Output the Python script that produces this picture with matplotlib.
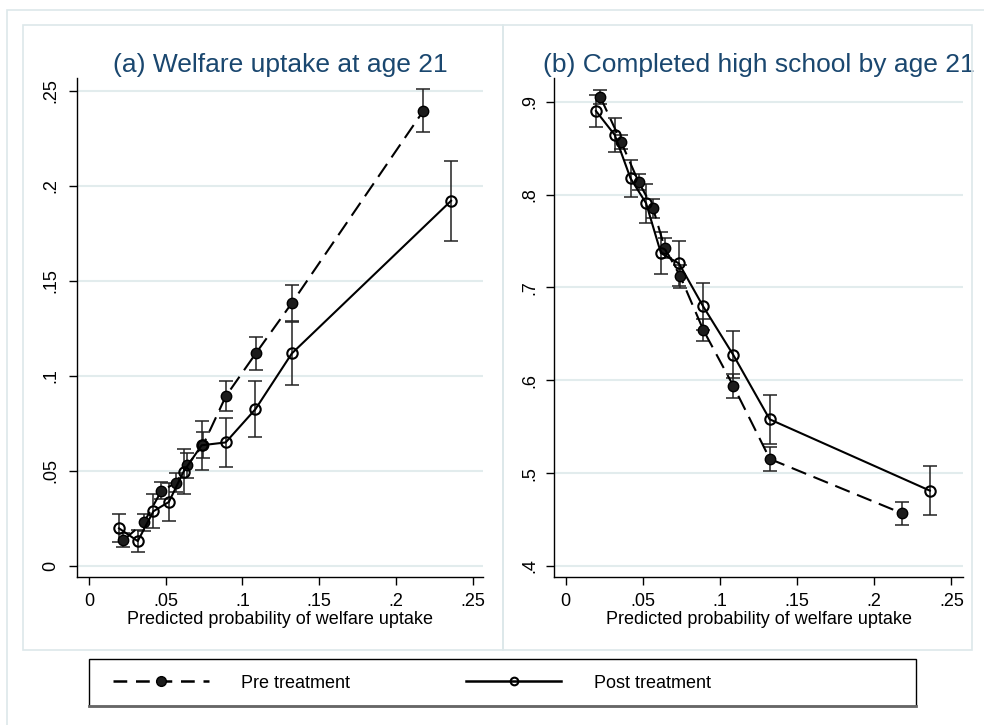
import matplotlib
matplotlib.use("Agg")
import matplotlib.pyplot as plt
from matplotlib.lines import Line2D
from matplotlib.patches import Rectangle

plt.rcParams['font.family'] = ['Liberation Sans', 'DejaVu Sans']

# Bin means of predicted probability of welfare uptake
pre_x = [0.0225, 0.0358, 0.0472, 0.0566, 0.0641, 0.0743, 0.0892, 0.1087, 0.1323, 0.2180]
post_x = [0.0196, 0.0318, 0.0420, 0.0521, 0.0617, 0.0734, 0.0891, 0.1085, 0.1322, 0.2360]

# (a) Welfare uptake at age 21: means and 95% CI half-widths
pre_welfare = [0.0136, 0.0229, 0.0395, 0.0437, 0.0530, 0.0635, 0.0893, 0.1118, 0.1384, 0.2395]
pre_welfare_ci = [0.0038, 0.0045, 0.0045, 0.0050, 0.0065, 0.0068, 0.0078, 0.0085, 0.0095, 0.0112]
post_welfare = [0.0198, 0.0131, 0.0288, 0.0337, 0.0497, 0.0635, 0.0650, 0.0825, 0.1118, 0.1921]
post_welfare_ci = [0.0074, 0.0060, 0.0090, 0.0098, 0.0116, 0.0128, 0.0130, 0.0146, 0.0168, 0.0212]

# (b) Completed high school by age 21
pre_school = [0.9047, 0.8570, 0.8136, 0.7852, 0.7427, 0.7118, 0.6541, 0.5938, 0.5153, 0.4568]
pre_school_ci = [0.0077, 0.0075, 0.0090, 0.0100, 0.0110, 0.0120, 0.0120, 0.0125, 0.0130, 0.0125]
post_school = [0.8900, 0.8641, 0.8175, 0.7906, 0.7370, 0.7258, 0.6795, 0.6276, 0.5580, 0.4812]
post_school_ci = [0.0170, 0.0180, 0.0200, 0.0210, 0.0230, 0.0240, 0.0250, 0.0250, 0.0264, 0.0265]

x_ticks = [0, 0.05, 0.10, 0.15, 0.20, 0.25]
x_tick_labels = ['0', '.05', '.1', '.15', '.2', '.25']
a_ticks = [0, 0.05, 0.10, 0.15, 0.20, 0.25]
a_tick_labels = ['0', '.05', '.1', '.15', '.2', '.25']
b_ticks = [0.4, 0.5, 0.6, 0.7, 0.8, 0.9]
b_tick_labels = ['.4', '.5', '.6', '.7', '.8', '.9']

titles = ['(a) Welfare uptake at age 21', '(b) Completed high school by age 21']
x_label = 'Predicted probability of welfare uptake'
legend_labels = ['Pre treatment', 'Post treatment']

TITLE_C = '#1a476f'
GRID_C = '#e2eced'
FRAME_C = '#dde8ea'
DASH = (7.5, 3.8)
LEG_DASH = (5.5, 3.5)

W, H = 984, 725
fig = plt.figure(figsize=(W / 100, H / 100), dpi=100)
fig.patch.set_facecolor('white')


def px_box(x0, y0, x1, y1):
    return [x0 / W, 1 - y1 / H, (x1 - x0) / W, (y1 - y0) / H]


# Outer graph region and the two panel regions
fig.patches.append(Rectangle((7 / W, -0.1), 1.2, 1 - 10 / H + 0.1,
                             transform=fig.transFigure, fill=False,
                             ec=FRAME_C, lw=1.2, zorder=0))
for x0, x1 in [(23, 503), (503, 972)]:
    b = px_box(x0, 25, x1, 650)
    fig.patches.append(Rectangle((b[0], b[1]), b[2], b[3],
                                 transform=fig.transFigure, fill=False,
                                 ec=FRAME_C, lw=1.2, zorder=0))

ax_a = fig.add_axes(px_box(77, 78, 483, 577))
ax_b = fig.add_axes(px_box(554, 78, 963, 577))


def draw_panel(ax, y_pre, e_pre, y_post, e_post):
    ax.errorbar(pre_x, y_pre, yerr=e_pre, fmt='none', ecolor='#222222',
                elinewidth=1.1, capsize=5, capthick=1.1, zorder=2)
    ax.errorbar(post_x, y_post, yerr=e_post, fmt='none', ecolor='#222222',
                elinewidth=1.1, capsize=5, capthick=1.1, zorder=2)
    ax.plot(pre_x, y_pre, color='black', lw=1.5, dashes=DASH, marker='o',
            ms=7.5, mfc='#1c1c1c', mec='black', mew=1.0, zorder=3)
    ax.plot(post_x, y_post, color='black', lw=1.5, marker='o', ms=7.5,
            mfc='none', mec='black', mew=1.5, zorder=3)


draw_panel(ax_a, pre_welfare, pre_welfare_ci, post_welfare, post_welfare_ci)
draw_panel(ax_b, pre_school, pre_school_ci, post_school, post_school_ci)

settings = [
    (ax_a, (-0.0078, 0.2568), (-0.00579, 0.2567), a_ticks, a_tick_labels, titles[0], 7),
    (ax_b, (-0.0076, 0.2575), (0.3882, 0.9255), b_ticks, b_tick_labels, titles[1], 6),
]
for ax, xl, yl, yt, ytl, title, ypad in settings:
    ax.set_xlim(*xl)
    ax.set_ylim(*yl)
    ax.set_xticks(x_ticks)
    ax.set_xticklabels(x_tick_labels)
    ax.set_yticks(yt)
    ax.set_yticklabels(ytl)
    for lab in ax.get_yticklabels():
        lab.set_rotation(90)
        lab.set_va('center')
    ax.tick_params(axis='both', direction='out', length=5.5, width=1,
                   labelsize=13, color='black')
    ax.tick_params(axis='x', pad=6)
    ax.tick_params(axis='y', pad=ypad)
    ax.yaxis.grid(True, color=GRID_C, lw=1.5)
    ax.set_axisbelow(True)
    for s in ['top', 'right']:
        ax.spines[s].set_visible(False)
    for s in ['left', 'bottom']:
        ax.spines[s].set_linewidth(1.0)
        ax.spines[s].set_color('black')
    ax.set_facecolor('white')
    ax.set_xlabel(x_label, fontsize=13, labelpad=1)
    ax.set_title(title, fontsize=19, color=TITLE_C, pad=4)

# Legend box
lb = px_box(89, 659, 916, 706)
fig.patches.append(Rectangle((lb[0], lb[1]), lb[2], lb[3],
                             transform=fig.transFigure, fill=False,
                             ec='black', lw=1.0, zorder=1))
fig.lines.append(Line2D([89 / W, 916 / W], [1 - 706 / H, 1 - 706 / H],
                        transform=fig.transFigure, color='#666666', lw=2))

handles = [
    Line2D([], [], color='black', lw=1.8, dashes=LEG_DASH, marker='o', ms=7,
           mfc='#1c1c1c', mec='black'),
    Line2D([], [], color='black', lw=1.8, marker='o', ms=5.5, mfc='none',
           mec='black', mew=1.5),
]
fig.legend(handles=handles, labels=legend_labels, ncol=2, loc='center left',
           bbox_to_anchor=(113 / W, 1 - 683 / H), frameon=False, fontsize=13,
           handlelength=5.3, handletextpad=1.8, columnspacing=6.4,
           borderpad=0, borderaxespad=0)

fig.savefig('out.png', dpi=100, facecolor='white')
